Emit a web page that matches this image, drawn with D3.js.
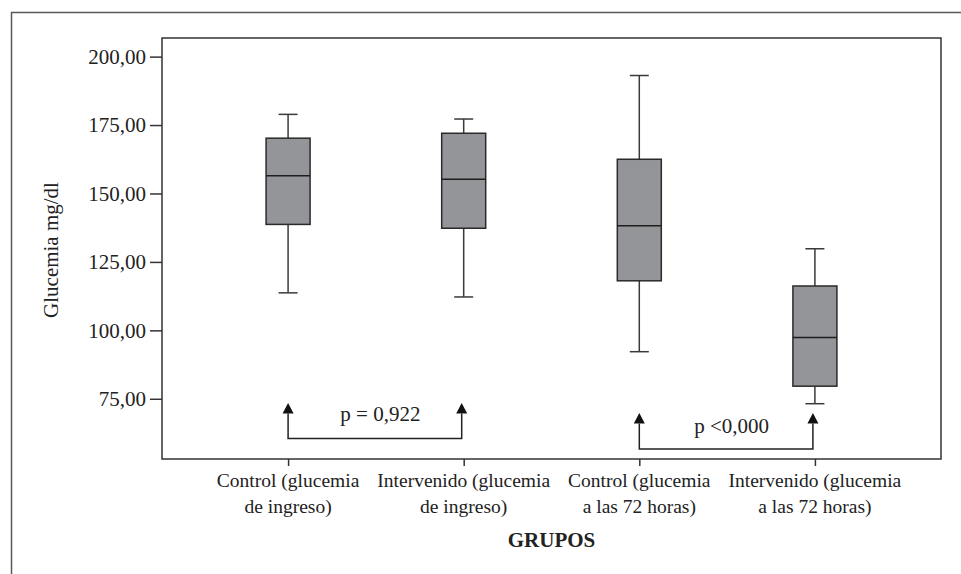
<!DOCTYPE html>
<html>
<head>
<meta charset="utf-8">
<script src="https://cdn.jsdelivr.net/npm/d3@7"></script>
<style>
  html, body { margin: 0; padding: 0; background: #fff; }
  svg { display: block; }
  text { font-family: "Liberation Serif", "Times New Roman", serif; fill: #222; }
</style>
</head>
<body>
<svg id="chart" width="961" height="574"></svg>
<script>
// ---- data ----
const categories = [
  ["Control (glucemia", "de ingreso)"],
  ["Intervenido (glucemia", "de ingreso)"],
  ["Control (glucemia", "a las 72 horas)"],
  ["Intervenido (glucemia", "a las 72 horas)"]
];
const whiskerLow  = [113.7, 112.2, 92.2, 73.2];
const q1          = [138.7, 137.3, 118.1, 79.6];
const median      = [156.5, 155.2, 138.2, 97.4];
const q3          = [170.2, 172.0, 162.5, 116.2];
const whiskerHigh = [178.9, 177.2, 193.1, 129.8];
const yTicks = [75, 100, 125, 150, 175, 200];
const yTickLabels = ["75,00", "100,00", "125,00", "150,00", "175,00", "200,00"];
const comparisons = [
  { from: 0, to: 1, label: "p = 0,922" },
  { from: 2, to: 3, label: "p <0,000" }
];
const yTitle = "Glucemia mg/dl";
const xTitle = "GRUPOS";

// ---- layout ----
const svg = d3.select("#chart");
const plot = { left: 162, top: 38, right: 941, bottom: 459 };

const x = d3.scalePoint()
  .domain(d3.range(categories.length))
  .range([plot.left, plot.right])
  .padding(0.718);
const y = d3.scaleLinear().domain([53, 206.8]).range([plot.bottom, plot.top]);

// outer frame (top + left lines)
svg.append("path")
  .attr("d", "M11.5,574 L11.5,12.5 L961,12.5")
  .attr("fill", "none").attr("stroke", "#5a5a5a").attr("stroke-width", 1.5);

// plot frame
svg.append("rect")
  .attr("x", plot.left).attr("y", plot.top)
  .attr("width", plot.right - plot.left).attr("height", plot.bottom - plot.top)
  .attr("fill", "none").attr("stroke", "#333").attr("stroke-width", 1.5);

// y axis
const yAxis = d3.axisLeft(y).tickValues(yTicks)
  .tickFormat((d, i) => yTickLabels[i]).tickSize(12).tickPadding(4);
const gy = svg.append("g").attr("transform", `translate(${plot.left},0)`).call(yAxis);
gy.select(".domain").remove();
gy.selectAll(".tick line").attr("stroke", "#333").attr("stroke-width", 1.5);
gy.selectAll(".tick text")
  .attr("font-family", "Liberation Serif, Times New Roman, serif")
  .attr("font-size", 21).attr("fill", "#222");

// x axis
const xAxis = d3.axisBottom(x).tickSize(7).tickFormat(() => "");
const gx = svg.append("g").attr("transform", `translate(0,${plot.bottom})`).call(xAxis);
gx.select(".domain").remove();
gx.selectAll(".tick line").attr("stroke", "#333").attr("stroke-width", 1.5);

// x labels (two lines)
const labels = svg.append("g");
categories.forEach((lines, i) => {
  const t = labels.append("text")
    .attr("x", x(i)).attr("y", 487)
    .attr("text-anchor", "middle").attr("font-size", 19.5);
  lines.forEach((ln, j) => {
    t.append("tspan").attr("x", x(i)).attr("dy", j === 0 ? 0 : 25.5).text(ln);
  });
});

// axis titles
svg.append("text")
  .attr("transform", `translate(57.5,250) rotate(-90)`)
  .attr("text-anchor", "middle").attr("font-size", 21)
  .text(yTitle);
svg.append("text")
  .attr("x", 551.5).attr("y", 546.5)
  .attr("text-anchor", "middle").attr("font-size", 21).attr("font-weight", "bold")
  .text(xTitle);

// boxes
const boxW = 44, capW = 19;
const boxes = svg.append("g");
categories.forEach((c, i) => {
  const cx = x(i);
  const g = boxes.append("g");
  g.append("line").attr("x1", cx).attr("x2", cx)
    .attr("y1", y(whiskerHigh[i])).attr("y2", y(q3[i]))
    .attr("stroke", "#3a3a3a").attr("stroke-width", 1.5);
  g.append("line").attr("x1", cx).attr("x2", cx)
    .attr("y1", y(q1[i])).attr("y2", y(whiskerLow[i]))
    .attr("stroke", "#3a3a3a").attr("stroke-width", 1.5);
  g.append("line").attr("x1", cx - capW / 2).attr("x2", cx + capW / 2)
    .attr("y1", y(whiskerHigh[i])).attr("y2", y(whiskerHigh[i]))
    .attr("stroke", "#3a3a3a").attr("stroke-width", 1.5);
  g.append("line").attr("x1", cx - capW / 2).attr("x2", cx + capW / 2)
    .attr("y1", y(whiskerLow[i])).attr("y2", y(whiskerLow[i]))
    .attr("stroke", "#3a3a3a").attr("stroke-width", 1.5);
  g.append("rect")
    .attr("x", cx - boxW / 2).attr("y", y(q3[i]))
    .attr("width", boxW).attr("height", y(q1[i]) - y(q3[i]))
    .attr("fill", "#939598").attr("stroke", "#2a2a2a").attr("stroke-width", 1.5);
  g.append("line").attr("x1", cx - boxW / 2).attr("x2", cx + boxW / 2)
    .attr("y1", y(median[i])).attr("y2", y(median[i]))
    .attr("stroke", "#1e1e1e").attr("stroke-width", 1.6);
});

// comparison brackets
const bracketLayout = [
  { tip: 403, base: 438.5, textY: 420.5 },
  { tip: 413, base: 449, textY: 433 }
];
const ann = svg.append("g");
comparisons.forEach((c, k) => {
  const L = bracketLayout[k];
  const x1 = x(c.from), x2 = x(c.to) - 2;
  const headH = 10.5, headW = 11;
  ann.append("path")
    .attr("d", `M${x1},${L.tip + headH} L${x1},${L.base} L${x2},${L.base} L${x2},${L.tip + headH}`)
    .attr("fill", "none").attr("stroke", "#222").attr("stroke-width", 1.5);
  [x1, x2].forEach(ax => {
    ann.append("path")
      .attr("d", `M${ax},${L.tip} L${ax - headW / 2},${L.tip + headH} L${ax + headW / 2},${L.tip + headH} Z`)
      .attr("fill", "#111");
  });
  ann.append("text")
    .attr("x", (x1 + x2) / 2 + 5.5).attr("y", L.textY)
    .attr("text-anchor", "middle").attr("font-size", 21)
    .text(c.label);
});
</script>
</body>
</html>
